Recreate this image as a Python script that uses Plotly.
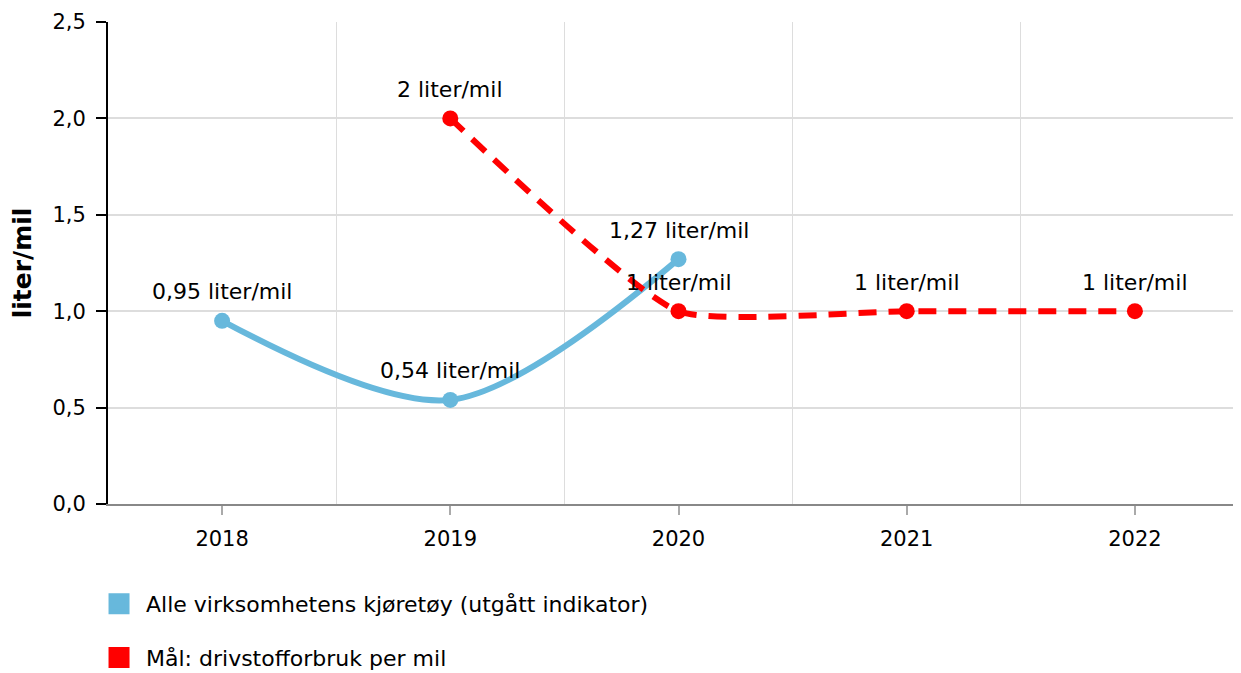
import plotly.graph_objects as go

years = ["2018", "2019", "2020", "2021", "2022"]
blue_years = ["2018", "2019", "2020"]
blue_values = [0.95, 0.54, 1.27]
red_years = ["2019", "2020", "2021", "2022"]
red_values = [2, 1, 1, 1]
blue_name = "Alle virksomhetens kjøretøy (utgått indikator)"
red_name = "Mål: drivstofforbruk per mil"
y_title = "liter/mil"
unit = "liter/mil"

BLUE = "#67b8dc"
RED = "#ff0000"
FONT = "Verdana, DejaVu Sans, sans-serif"

idx = {y: i for i, y in enumerate(years)}


def fmt(v):
    s = ("%g" % v).replace(".", ",")
    return s + " " + unit


fig = go.Figure()
fig.add_trace(go.Scatter(
    x=[idx[y] for y in blue_years], y=blue_values,
    mode="lines+markers",
    line=dict(color=BLUE, width=6, shape="spline", smoothing=0.9),
    marker=dict(color=BLUE, size=16),
    showlegend=False, cliponaxis=False, hoverinfo="skip",
))
fig.add_trace(go.Scatter(
    x=[idx[y] for y in red_years], y=red_values,
    mode="lines+markers",
    line=dict(color=RED, width=6, shape="spline", smoothing=0.5, dash="18px,12px"),
    marker=dict(color=RED, size=16),
    showlegend=False, cliponaxis=False, hoverinfo="skip",
))
# legend entries (square swatches)
for name, col, grp in [(blue_name, BLUE, "a"), (red_name, RED, "b")]:
    fig.add_trace(go.Scatter(
        x=[None], y=[None], mode="markers", name=name, legendgroup=grp,
        marker=dict(symbol="square", color=col, size=16, line=dict(color=col, width=5)),
    ))

annotations = []
for yrs, vals in [(blue_years, blue_values), (red_years, red_values)]:
    for yr, v in zip(yrs, vals):
        annotations.append(dict(
            x=idx[yr], y=v, xref="x", yref="y", text=fmt(v), showarrow=False,
            yshift=29, xanchor="center", yanchor="middle",
            font=dict(size=22, family=FONT, color="#000000"),
        ))

fig.update_layout(
    width=1241, height=673,
    margin=dict(l=100, r=0, t=14, b=177),
    paper_bgcolor="white", plot_bgcolor="white",
    separators=", ",
    font=dict(family=FONT, size=21, color="#000000"),
    annotations=annotations,
    showlegend=True,
    legend=dict(
        x=-0.014, y=-0.164, xanchor="left", yanchor="top",
        orientation="v", traceorder="grouped", tracegroupgap=22,
        font=dict(size=22, family=FONT, color="#000000"),
        itemwidth=44,
    ),
    xaxis=dict(
        range=[-0.5, 4.5],
        tickmode="array", tickvals=list(range(len(years))), ticktext=years,
        showgrid=False, zeroline=False,
        showline=True, linecolor="#888888", linewidth=2,
        ticks="outside", ticklen=9, tickcolor="#aaaaaa", tickwidth=2,
        ticklabelstandoff=6,
        tickfont=dict(size=21, family=FONT, color="#000000"),
        minor=dict(tick0=0.5, dtick=1, showgrid=True, gridcolor="#dddddd", gridwidth=1, ticks=""),
        fixedrange=True,
    ),
    yaxis=dict(
        range=[0, 2.5], dtick=0.5, tickformat=".1f",
        showgrid=True, gridcolor="#dddddd", gridwidth=2, zeroline=False,
        showline=True, linecolor="#000000", linewidth=2,
        ticks="outside", ticklen=10, tickcolor="#000000", tickwidth=2,
        ticklabelstandoff=6,
        tickfont=dict(size=21, family=FONT, color="#000000"),
        title=dict(text="<b>" + y_title + "</b>", font=dict(size=25, family=FONT, color="#000000"), standoff=18),
        fixedrange=True,
    ),
)

fig.write_html("out.html")
